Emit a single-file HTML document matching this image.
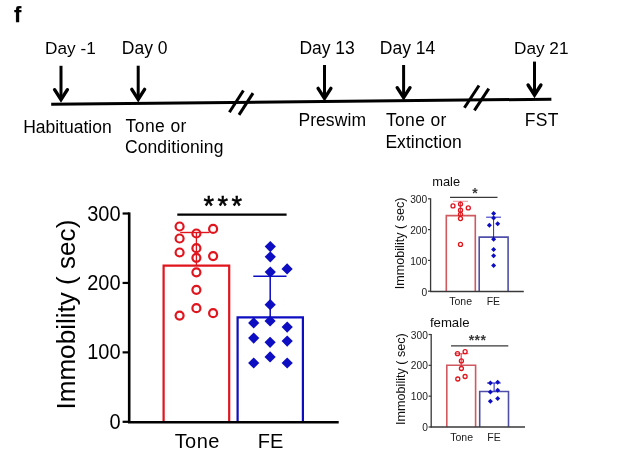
<!DOCTYPE html>
<html><head><meta charset="utf-8"><title>Figure f</title>
<style>
html,body{margin:0;padding:0;background:#fff;}
body{width:622px;height:460px;overflow:hidden;}
svg{display:block;}
text{font-family:"Liberation Sans", Arial, sans-serif;}
</style></head>
<body>
<svg width="622" height="460" viewBox="0 0 622 460">
<defs><filter id="bl" x="-5%" y="-5%" width="110%" height="110%"><feGaussianBlur stdDeviation="0.3"/></filter>
<filter id="gb" x="0" y="0" width="100%" height="100%" filterUnits="userSpaceOnUse"><feGaussianBlur stdDeviation="0.28"/></filter></defs>
<g filter="url(#gb)">
<rect width="622" height="460" fill="#fff"/>
<text x="13.9" y="21.9" font-size="21.8" text-anchor="start" font-weight="bold" fill="#000" stroke="#000" stroke-width="0.25">f</text>
<line x1="51.2" y1="104.2" x2="551.4" y2="99.2" stroke="#000" stroke-width="3.0" stroke-linecap="butt"/>
<line x1="61.0" y1="65.8" x2="61.0" y2="99.3" stroke="#000" stroke-width="3.0" stroke-linecap="butt"/>
<polyline points="54.6,89.7 61.0,99.7 67.4,89.7" fill="none" stroke="#000" stroke-width="3.4" stroke-linejoin="miter" stroke-linecap="round" stroke-miterlimit="10"/>
<line x1="138.2" y1="65.7" x2="138.2" y2="99.0" stroke="#000" stroke-width="3.0" stroke-linecap="butt"/>
<polyline points="131.79999999999998,89.4 138.2,99.4 144.6,89.4" fill="none" stroke="#000" stroke-width="3.4" stroke-linejoin="miter" stroke-linecap="round" stroke-miterlimit="10"/>
<line x1="324.5" y1="65.0" x2="324.5" y2="98.0" stroke="#000" stroke-width="3.0" stroke-linecap="butt"/>
<polyline points="318.1,88.4 324.5,98.4 330.9,88.4" fill="none" stroke="#000" stroke-width="3.4" stroke-linejoin="miter" stroke-linecap="round" stroke-miterlimit="10"/>
<line x1="403.6" y1="65.0" x2="403.6" y2="97.3" stroke="#000" stroke-width="3.0" stroke-linecap="butt"/>
<polyline points="397.20000000000005,87.7 403.6,97.7 410.0,87.7" fill="none" stroke="#000" stroke-width="3.4" stroke-linejoin="miter" stroke-linecap="round" stroke-miterlimit="10"/>
<line x1="534.5" y1="61.6" x2="534.5" y2="94.6" stroke="#000" stroke-width="3.0" stroke-linecap="butt"/>
<polyline points="528.1,85.0 534.5,95.0 540.9,85.0" fill="none" stroke="#000" stroke-width="3.4" stroke-linejoin="miter" stroke-linecap="round" stroke-miterlimit="10"/>
<line x1="229.4" y1="112.3" x2="243.4" y2="90.5" stroke="#000" stroke-width="3.0" stroke-linecap="butt"/>
<line x1="239.0" y1="114.9" x2="253.0" y2="93.1" stroke="#000" stroke-width="3.0" stroke-linecap="butt"/>
<line x1="464.4" y1="107.7" x2="479.0" y2="85.5" stroke="#000" stroke-width="3.0" stroke-linecap="butt"/>
<line x1="474.4" y1="110.3" x2="488.8" y2="88.6" stroke="#000" stroke-width="3.0" stroke-linecap="butt"/>
<text x="45.1" y="53.8" font-size="17.2" text-anchor="start" font-weight="normal" fill="#000" >Day -1</text>
<text x="121.8" y="53.9" font-size="17.5" text-anchor="start" font-weight="normal" fill="#000" >Day 0</text>
<text x="299.4" y="53.9" font-size="17.5" text-anchor="start" font-weight="normal" fill="#000" >Day 13</text>
<text x="379.8" y="53.9" font-size="17.5" text-anchor="start" font-weight="normal" fill="#000" >Day 14</text>
<text x="514.0" y="54.0" font-size="17.2" text-anchor="start" font-weight="normal" fill="#000" >Day 21</text>
<text x="23.2" y="132.7" font-size="17.5" text-anchor="start" font-weight="normal" fill="#000" >Habituation</text>
<text x="125.6" y="131.7" font-size="17.5" text-anchor="start" font-weight="normal" fill="#000" letter-spacing="0.4">Tone or</text>
<text x="124.9" y="152.5" font-size="17.5" text-anchor="start" font-weight="normal" fill="#000" letter-spacing="0.11">Conditioning</text>
<text x="298.4" y="126.0" font-size="17.5" text-anchor="start" font-weight="normal" fill="#000" letter-spacing="0.08">Preswim</text>
<text x="386.0" y="125.7" font-size="17.5" text-anchor="start" font-weight="normal" fill="#000" letter-spacing="0.32">Tone or</text>
<text x="385.4" y="147.6" font-size="17.5" text-anchor="start" font-weight="normal" fill="#000" letter-spacing="0.05">Extinction</text>
<text x="524.8" y="125.9" font-size="17.5" text-anchor="start" font-weight="normal" fill="#000" letter-spacing="0.25">FST</text>
<polyline points="163.6,421.8 163.6,265.5825 229.2,265.5825 229.2,421.8" fill="none" stroke="#e0141e" stroke-width="2.2" stroke-linejoin="miter"/>
<polyline points="237.6,421.8 237.6,317.4 302.9,317.4 302.9,421.8" fill="none" stroke="#0c0cc2" stroke-width="2.2" stroke-linejoin="miter"/>
<line x1="129.2" y1="212.4" x2="129.2" y2="423.0" stroke="#000" stroke-width="2.6" stroke-linecap="butt"/>
<line x1="128.0" y1="422.2" x2="338.7" y2="422.2" stroke="#000" stroke-width="2.4" stroke-linecap="butt"/>
<line x1="122.6" y1="213.51" x2="129.2" y2="213.51" stroke="#000" stroke-width="2.2" stroke-linecap="butt"/>
<text transform="translate(120.6,220.61) scale(1,1.06)" font-size="20" text-anchor="end" fill="#000">300</text>
<line x1="122.6" y1="282.94" x2="129.2" y2="282.94" stroke="#000" stroke-width="2.2" stroke-linecap="butt"/>
<text transform="translate(120.6,290.04) scale(1,1.06)" font-size="20" text-anchor="end" fill="#000">200</text>
<line x1="122.6" y1="352.37" x2="129.2" y2="352.37" stroke="#000" stroke-width="2.2" stroke-linecap="butt"/>
<text transform="translate(120.6,359.47) scale(1,1.06)" font-size="20" text-anchor="end" fill="#000">100</text>
<line x1="122.6" y1="421.8" x2="129.2" y2="421.8" stroke="#000" stroke-width="2.2" stroke-linecap="butt"/>
<text transform="translate(120.6,428.90) scale(1,1.06)" font-size="20" text-anchor="end" fill="#000">0</text>
<line x1="196.4" y1="232.5" x2="196.4" y2="265.5825" stroke="#e0141e" stroke-width="1.3" stroke-linecap="butt"/>
<line x1="180.2" y1="232.5" x2="209.4" y2="232.5" stroke="#e0141e" stroke-width="1.4" stroke-linecap="butt"/>
<line x1="270.2" y1="276.3" x2="270.2" y2="317.4" stroke="#0c0cc2" stroke-width="1.5" stroke-linecap="butt"/>
<line x1="253.3" y1="276.3" x2="286.5" y2="276.3" stroke="#0c0cc2" stroke-width="1.4" stroke-linecap="butt"/>
<circle cx="179.6" cy="226.5" r="4.0" fill="none" stroke="#e0141e" stroke-width="2.2"/>
<circle cx="213.1" cy="228.9" r="4.0" fill="none" stroke="#e0141e" stroke-width="2.2"/>
<circle cx="196.4" cy="233.5" r="4.0" fill="none" stroke="#e0141e" stroke-width="2.2"/>
<circle cx="179.6" cy="238.5" r="4.0" fill="none" stroke="#e0141e" stroke-width="2.2"/>
<circle cx="196.4" cy="248.2" r="4.0" fill="none" stroke="#e0141e" stroke-width="2.2"/>
<circle cx="179.6" cy="252.5" r="4.0" fill="none" stroke="#e0141e" stroke-width="2.2"/>
<circle cx="196.4" cy="257.8" r="4.0" fill="none" stroke="#e0141e" stroke-width="2.2"/>
<circle cx="213.1" cy="256.1" r="4.0" fill="none" stroke="#e0141e" stroke-width="2.2"/>
<circle cx="196.4" cy="272.3" r="4.0" fill="none" stroke="#e0141e" stroke-width="2.2"/>
<circle cx="196.4" cy="289.8" r="4.0" fill="none" stroke="#e0141e" stroke-width="2.2"/>
<circle cx="196.4" cy="308.2" r="4.0" fill="none" stroke="#e0141e" stroke-width="2.2"/>
<circle cx="179.6" cy="315.6" r="4.0" fill="none" stroke="#e0141e" stroke-width="2.2"/>
<circle cx="213.1" cy="313.2" r="4.0" fill="none" stroke="#e0141e" stroke-width="2.2"/>
<polygon points="270.3,241.0 275.90000000000003,246.6 270.3,252.2 264.7,246.6" fill="#0c0cc2"/>
<polygon points="270.3,251.20000000000002 275.90000000000003,256.8 270.3,262.40000000000003 264.7,256.8" fill="#0c0cc2"/>
<polygon points="270.3,266.5 275.90000000000003,272.1 270.3,277.70000000000005 264.7,272.1" fill="#0c0cc2"/>
<polygon points="287.1,263.29999999999995 292.70000000000005,268.9 287.1,274.5 281.5,268.9" fill="#0c0cc2"/>
<polygon points="270.2,299.09999999999997 275.8,304.7 270.2,310.3 264.59999999999997,304.7" fill="#0c0cc2"/>
<polygon points="253.7,317.29999999999995 259.3,322.9 253.7,328.5 248.1,322.9" fill="#0c0cc2"/>
<polygon points="270.1,315.4 275.70000000000005,321.0 270.1,326.6 264.5,321.0" fill="#0c0cc2"/>
<polygon points="287.2,321.5 292.8,327.1 287.2,332.70000000000005 281.59999999999997,327.1" fill="#0c0cc2"/>
<polygon points="253.7,332.5 259.3,338.1 253.7,343.70000000000005 248.1,338.1" fill="#0c0cc2"/>
<polygon points="270.1,336.7 275.70000000000005,342.3 270.1,347.90000000000003 264.5,342.3" fill="#0c0cc2"/>
<polygon points="287.2,335.5 292.8,341.1 287.2,346.70000000000005 281.59999999999997,341.1" fill="#0c0cc2"/>
<polygon points="253.7,357.4 259.3,363.0 253.7,368.6 248.1,363.0" fill="#0c0cc2"/>
<polygon points="270.1,351.29999999999995 275.70000000000005,356.9 270.1,362.5 264.5,356.9" fill="#0c0cc2"/>
<polygon points="287.2,357.4 292.8,363.0 287.2,368.6 281.59999999999997,363.0" fill="#0c0cc2"/>
<line x1="177.3" y1="214.6" x2="286.6" y2="214.6" stroke="#000" stroke-width="2.4" stroke-linecap="butt"/>
<text x="224.4" y="215.0" font-size="27" text-anchor="middle" font-weight="normal" fill="#000" letter-spacing="3.5" stroke="#000" stroke-width="0.55">***</text>
<text x="197.2" y="448.4" font-size="20" text-anchor="middle" font-weight="normal" fill="#000" letter-spacing="0.4">Tone</text>
<text x="270.6" y="448.4" font-size="20" text-anchor="middle" font-weight="normal" fill="#000" >FE</text>
<text transform="translate(75.1,409.6) rotate(-90)" font-size="26.1" fill="#000">Immobility ( sec)</text>
<g filter="url(#bl)">
<polyline points="446.3,291.2 446.3,215.6 475.3,215.6 475.3,291.2" fill="none" stroke="#d0585e" stroke-width="1.6" stroke-linejoin="miter"/>
<polyline points="479.2,291.2 479.2,237.1 508.1,237.1 508.1,291.2" fill="none" stroke="#5050aa" stroke-width="1.6" stroke-linejoin="miter"/>
<line x1="430.6" y1="198.29999999999998" x2="430.6" y2="291.8" stroke="#383838" stroke-width="1.3" stroke-linecap="butt"/>
<line x1="430.0" y1="291.5" x2="523.8" y2="291.5" stroke="#383838" stroke-width="1.5" stroke-linecap="butt"/>
<line x1="428.0" y1="198.79999999999998" x2="430.6" y2="198.79999999999998" stroke="#383838" stroke-width="1.2" stroke-linecap="butt"/>
<text x="427.20000000000005" y="203.35" font-size="10.2" text-anchor="end" font-weight="normal" fill="#1a1a1a" >300</text>
<line x1="428.0" y1="229.6" x2="430.6" y2="229.6" stroke="#383838" stroke-width="1.2" stroke-linecap="butt"/>
<text x="427.20000000000005" y="234.15" font-size="10.2" text-anchor="end" font-weight="normal" fill="#1a1a1a" >200</text>
<line x1="428.0" y1="260.4" x2="430.6" y2="260.4" stroke="#383838" stroke-width="1.2" stroke-linecap="butt"/>
<text x="427.20000000000005" y="264.95" font-size="10.2" text-anchor="end" font-weight="normal" fill="#1a1a1a" >100</text>
<line x1="428.0" y1="291.2" x2="430.6" y2="291.2" stroke="#383838" stroke-width="1.2" stroke-linecap="butt"/>
<text x="427.20000000000005" y="295.75" font-size="10.2" text-anchor="end" font-weight="normal" fill="#1a1a1a" >0</text>
<line x1="460.4" y1="201.3" x2="460.4" y2="215.6" stroke="#e0141e" stroke-width="0.9" stroke-linecap="butt"/>
<line x1="453.0" y1="201.3" x2="468.0" y2="201.3" stroke="#e07a80" stroke-width="0.8" stroke-linecap="butt"/>
<line x1="493.6" y1="217.2" x2="493.6" y2="237.1" stroke="#0c0cc2" stroke-width="0.9" stroke-linecap="butt"/>
<line x1="486.2" y1="217.2" x2="501.0" y2="217.2" stroke="#0c0cc2" stroke-width="0.9" stroke-linecap="butt"/>
<circle cx="453" cy="205.9" r="2.0" fill="none" stroke="#e0141e" stroke-width="1.3"/>
<circle cx="460.5" cy="204.1" r="2.0" fill="none" stroke="#e0141e" stroke-width="1.3"/>
<circle cx="468.3" cy="207.9" r="2.0" fill="none" stroke="#e0141e" stroke-width="1.3"/>
<circle cx="460.5" cy="210.2" r="2.0" fill="none" stroke="#e0141e" stroke-width="1.3"/>
<circle cx="460.5" cy="214.3" r="2.0" fill="none" stroke="#e0141e" stroke-width="1.3"/>
<circle cx="460.5" cy="218.6" r="2.0" fill="none" stroke="#e0141e" stroke-width="1.3"/>
<circle cx="460.5" cy="244.4" r="2.0" fill="none" stroke="#e0141e" stroke-width="1.3"/>
<polygon points="493.6,210.9 496.1,213.4 493.6,215.9 491.1,213.4" fill="#0c0cc2"/>
<polygon points="493.6,215.6 496.1,218.1 493.6,220.6 491.1,218.1" fill="#0c0cc2"/>
<polygon points="489.4,222.7 491.9,225.2 489.4,227.7 486.9,225.2" fill="#0c0cc2"/>
<polygon points="497.7,221.2 500.2,223.7 497.7,226.2 495.2,223.7" fill="#0c0cc2"/>
<polygon points="493.6,236.7 496.1,239.2 493.6,241.7 491.1,239.2" fill="#0c0cc2"/>
<polygon points="493.6,247.0 496.1,249.5 493.6,252.0 491.1,249.5" fill="#0c0cc2"/>
<polygon points="493.6,253.2 496.1,255.7 493.6,258.2 491.1,255.7" fill="#0c0cc2"/>
<polygon points="493.6,263.1 496.1,265.6 493.6,268.1 491.1,265.6" fill="#0c0cc2"/>
<line x1="450.0" y1="197.3" x2="497.5" y2="197.3" stroke="#383838" stroke-width="1.3" stroke-linecap="butt"/>
<text x="475.2" y="198.0" font-size="14" text-anchor="middle" font-weight="bold" fill="#383838" letter-spacing="0.5">*</text>
<text x="432.3" y="185.9" font-size="12.8" text-anchor="start" font-weight="normal" fill="#111" >male</text>
<text x="460.6" y="304.5" font-size="10.5" text-anchor="middle" font-weight="normal" fill="#1a1a1a" >Tone</text>
<text x="493.4" y="304.5" font-size="10.5" text-anchor="middle" font-weight="normal" fill="#1a1a1a" >FE</text>
<text transform="translate(404.0,289.2) rotate(-90)" font-size="12.6" fill="#111">Immobility ( sec)</text>
<polyline points="446.8,427.0 446.8,365.3 475.6,365.3 475.6,427.0" fill="none" stroke="#d0585e" stroke-width="1.6" stroke-linejoin="miter"/>
<polyline points="479.7,427.0 479.7,391.5 508.5,391.5 508.5,427.0" fill="none" stroke="#5050aa" stroke-width="1.6" stroke-linejoin="miter"/>
<line x1="431.2" y1="334.01" x2="431.2" y2="427.6" stroke="#383838" stroke-width="1.3" stroke-linecap="butt"/>
<line x1="430.59999999999997" y1="426.9" x2="525.0" y2="426.9" stroke="#383838" stroke-width="1.5" stroke-linecap="butt"/>
<line x1="428.59999999999997" y1="334.51" x2="431.2" y2="334.51" stroke="#383838" stroke-width="1.2" stroke-linecap="butt"/>
<text x="427.8" y="338.51" font-size="10.2" text-anchor="end" font-weight="normal" fill="#1a1a1a" >300</text>
<line x1="428.59999999999997" y1="365.34" x2="431.2" y2="365.34" stroke="#383838" stroke-width="1.2" stroke-linecap="butt"/>
<text x="427.8" y="369.34" font-size="10.2" text-anchor="end" font-weight="normal" fill="#1a1a1a" >200</text>
<line x1="428.59999999999997" y1="396.17" x2="431.2" y2="396.17" stroke="#383838" stroke-width="1.2" stroke-linecap="butt"/>
<text x="427.8" y="400.17" font-size="10.2" text-anchor="end" font-weight="normal" fill="#1a1a1a" >100</text>
<line x1="428.59999999999997" y1="427.0" x2="431.2" y2="427.0" stroke="#383838" stroke-width="1.2" stroke-linecap="butt"/>
<text x="427.8" y="431.0" font-size="10.2" text-anchor="end" font-weight="normal" fill="#1a1a1a" >0</text>
<line x1="461.2" y1="353.7" x2="461.2" y2="365.3" stroke="#e0141e" stroke-width="0.9" stroke-linecap="butt"/>
<line x1="454.5" y1="353.7" x2="468.3" y2="353.7" stroke="#d8343c" stroke-width="0.8" stroke-linecap="butt"/>
<line x1="494.1" y1="383.0" x2="494.1" y2="391.5" stroke="#0c0cc2" stroke-width="0.9" stroke-linecap="butt"/>
<line x1="487.0" y1="383.0" x2="500.8" y2="383.0" stroke="#0c0cc2" stroke-width="0.9" stroke-linecap="butt"/>
<circle cx="457.5" cy="353.7" r="2.0" fill="none" stroke="#e0141e" stroke-width="1.3"/>
<circle cx="465.1" cy="351.7" r="2.0" fill="none" stroke="#e0141e" stroke-width="1.3"/>
<circle cx="461.4" cy="360.9" r="2.0" fill="none" stroke="#e0141e" stroke-width="1.3"/>
<circle cx="461.4" cy="368.5" r="2.0" fill="none" stroke="#e0141e" stroke-width="1.3"/>
<circle cx="457.8" cy="379.0" r="2.0" fill="none" stroke="#e0141e" stroke-width="1.3"/>
<circle cx="465.1" cy="376.5" r="2.0" fill="none" stroke="#e0141e" stroke-width="1.3"/>
<polygon points="490.4,380.6 492.9,383.1 490.4,385.6 487.9,383.1" fill="#0c0cc2"/>
<polygon points="497.7,379.8 500.2,382.3 497.7,384.8 495.2,382.3" fill="#0c0cc2"/>
<polygon points="490.4,389.6 492.9,392.1 490.4,394.6 487.9,392.1" fill="#0c0cc2"/>
<polygon points="497.7,387.7 500.2,390.2 497.7,392.7 495.2,390.2" fill="#0c0cc2"/>
<polygon points="490.4,398.7 492.9,401.2 490.4,403.7 487.9,401.2" fill="#0c0cc2"/>
<polygon points="497.7,396.1 500.2,398.6 497.7,401.1 495.2,398.6" fill="#0c0cc2"/>
<line x1="451.0" y1="345.8" x2="508.3" y2="345.8" stroke="#383838" stroke-width="1.3" stroke-linecap="butt"/>
<text x="477.6" y="345.1" font-size="14" text-anchor="middle" font-weight="bold" fill="#383838" letter-spacing="0.5">***</text>
<text x="429.9" y="327.0" font-size="13.2" text-anchor="start" font-weight="normal" fill="#111" >female</text>
<text x="461.6" y="441.0" font-size="10.5" text-anchor="middle" font-weight="normal" fill="#1a1a1a" >Tone</text>
<text x="494.0" y="441.0" font-size="10.5" text-anchor="middle" font-weight="normal" fill="#1a1a1a" >FE</text>
<text transform="translate(405.4,424.9) rotate(-90)" font-size="12.6" fill="#111">Immobility ( sec)</text>
</g>
</g>
</svg>
</body></html>
